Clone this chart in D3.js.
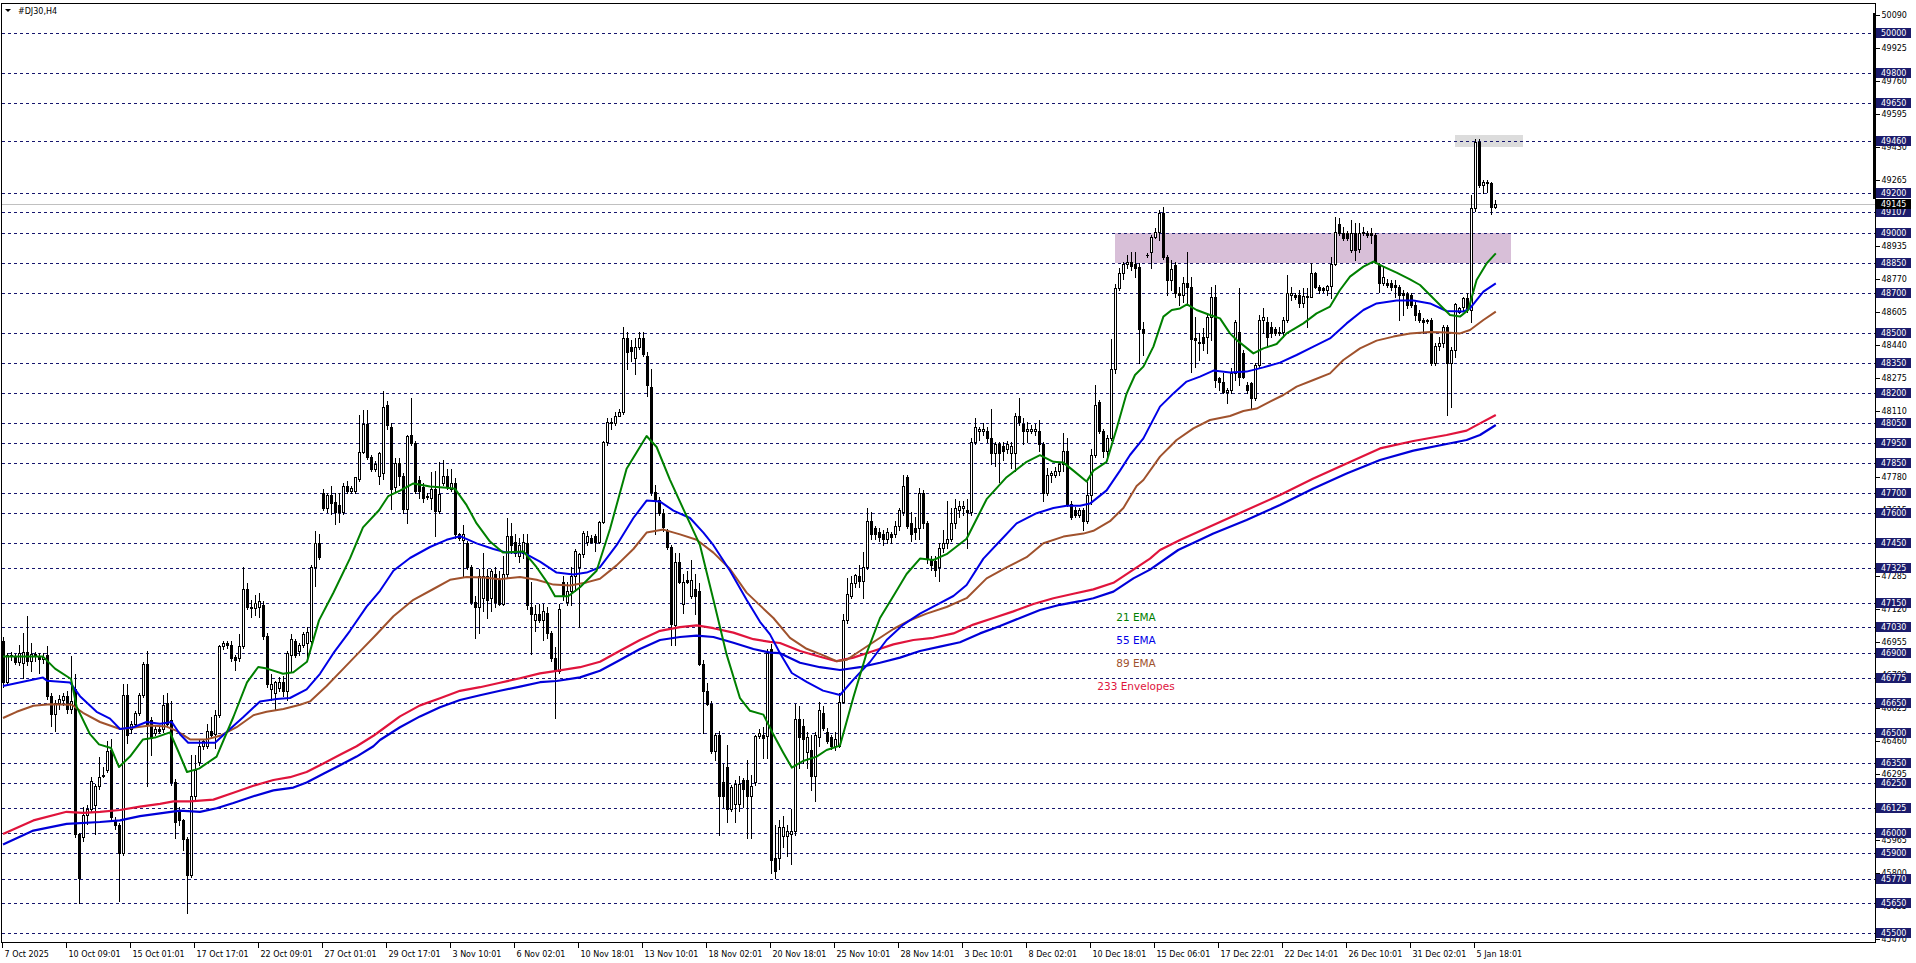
<!DOCTYPE html>
<html><head><meta charset="utf-8">
<script src="https://cdn.jsdelivr.net/npm/d3@7"></script>
<style>html,body{margin:0;padding:0;background:#fff;overflow:hidden}svg{display:block}</style>
</head><body>
<svg id="c" width="1916" height="963"></svg>
<script>
// ---------- DATA (H4 bars, #DJ30) ----------
const openP = [46960,46753,46891,46880,46856,46850,46905,46860,46895,46885,46870,46891,46684,46595,46650,46665,46685,46620,46720,45995,
45980,46090,46120,46141,46236,46285,46313,46417,46063,46038,45900,46692,46520,46546,46598,46692,46847,46563,46500,46520,
46520,46649,46563,46253,46115,46063,45969,45788,46184,46356,46434,46434,46511,46494,46589,46934,46951,46942,46882,46873,
46934,47218,47132,47123,47132,47140,46985,46718,46701,46727,46753,46710,46891,46960,46908,46942,46951,46960,47330,47451,
47700,47623,47692,47657,47640,47606,47735,47709,47709,47769,47907,48045,47881,47821,47787,47800,48140,48030,47730,47848,
47784,47621,47988,47948,47766,47730,47680,47675,47721,47612,47748,47784,47721,47748,47493,47466,47448,47329,47157,47129,
47175,47284,47175,47293,47266,47147,47293,47484,47457,47384,47402,47448,47129,47066,47093,47066,47102,47002,46874,46811,
47257,47157,47211,47284,47329,47393,47457,47475,47484,47457,47557,47957,48057,48048,48085,48103,48476,48431,48376,48431,
48476,48385,48230,47703,47666,47602,47511,47430,47038,47357,47147,47266,47184,47220,47211,46847,46711,46647,46410,46492,
46256,46328,46119,46146,46146,46265,46265,46183,46256,46483,46492,46483,46921,45876,45876,45986,45986,45997,46008,46569,
46536,46404,46415,46283,46481,46602,46503,46481,46437,46437,46657,47064,47185,47251,47284,47262,47328,47559,47526,47504,
47493,47471,47493,47493,47537,47603,47779,47548,47526,47526,47702,47548,47372,47361,47328,47427,47449,47471,47548,47614,
47625,47614,47603,47955,48010,48010,48010,47977,47900,47944,47933,47922,47900,47900,48087,48043,48010,48010,48010,48010,
47944,47702,47790,47790,47812,47845,47911,47647,47614,47592,47614,47559,47691,47889,48153,48010,47911,47977,48318,48725,
48802,48846,48857,48846,48830,48518,48890,48907,48982,49007,49102,48882,48765,48840,48698,48690,48752,48732,48473,48448,
48482,48482,48582,48682,48273,48257,48207,48215,48298,48507,48398,48240,48248,48173,48340,48565,48557,48532,48518,48498,
48507,48565,48690,48690,48690,48652,48685,48682,48798,48732,48723,48715,48735,48845,49045,48998,48998,48915,48998,48918,
49007,49002,49002,48990,48840,48748,48752,48748,48740,48732,48698,48695,48690,48640,48598,48565,48560,48565,48348,48435,
48452,48532,48348,48415,48607,48632,48673,48615,49123,49457,49240,49248,49248,49128];
const highP = [46980,46900,46905,46895,46942,47000,47084,46950,46905,46900,46900,46937,46700,46667,46690,46700,46710,46885,46796,46000,
46130,46141,46280,46245,46382,46330,46460,46468,46080,46050,46744,46744,46560,46610,46701,46856,46911,46580,46540,46530,
46692,46701,46658,46270,46130,46070,45980,46391,46391,46468,46470,46546,46580,46615,46940,46960,46960,46960,46890,46994,
47330,47252,47166,47192,47201,47160,47000,46796,46760,46779,46787,46908,46994,46970,46951,47003,47028,47340,47511,47494,
47718,47700,47735,47700,47700,47752,47761,47735,47778,48088,48114,48114,47890,47860,47907,48209,48160,48050,47875,47875,
47800,47990,48176,47960,47785,47748,47700,47803,47812,47857,47866,47821,47821,47775,47500,47539,47460,47340,47184,47320,
47402,47320,47320,47329,47311,47384,47575,47548,47493,47475,47493,47493,47257,47138,47147,47147,47129,47010,46929,47147,
47284,47257,47329,47420,47402,47511,47511,47490,47493,47560,47960,48076,48076,48103,48121,48531,48503,48467,48476,48503,
48503,48403,48321,47739,47680,47620,47520,47439,47402,47402,47293,47311,47366,47293,47248,46865,46750,46660,46501,46510,
46347,46438,46240,46265,46283,46274,46365,46292,46490,46520,46529,46920,46943,46041,46063,46085,46041,46118,46646,46635,
46569,46503,46492,46503,46657,46635,46525,46490,46503,46701,47097,47273,47284,47295,47339,47405,47625,47603,47537,47526,
47515,47526,47504,47559,47625,47790,47790,47603,47581,47724,47713,47559,47383,47383,47449,47515,47658,47625,47669,47658,
47658,47669,47977,48076,48032,48050,48032,48120,47955,47955,47955,47960,47955,48098,48175,48076,48054,48040,48043,48065,
47955,47823,47812,47830,47856,47999,47977,47658,47630,47625,47625,47757,47922,48241,48164,48021,47988,48472,48747,48824,
48857,48890,48907,48907,48850,48557,48898,48990,49023,49115,49128,48890,48865,48857,48732,48782,48907,48782,48582,48498,
48523,48590,48732,48740,48282,48298,48223,48323,48565,48723,48415,48257,48257,48348,48590,48623,48582,48557,48532,48532,
48582,48790,48732,48700,48715,48723,48723,48848,48807,48740,48730,48740,48882,49082,49073,49032,49010,49065,49048,49048,
49032,49010,49023,48998,48848,48832,48770,48765,48765,48740,48715,48707,48700,48657,48615,48573,48570,48573,48448,48482,
48540,48540,48432,48648,48632,48682,48698,49190,49468,49468,49265,49265,49257,49165];
const lowP = [46730,46740,46865,46845,46840,46775,46840,46810,46860,46800,46850,46670,46537,46511,46620,46640,46600,46600,45980,45650,
45960,46046,46110,45995,46219,46279,46305,46072,46020,45659,45890,46450,46500,46530,46590,46680,46236,46391,46490,46500,
46503,46530,46240,45977,46040,45917,45598,45780,46170,46340,46420,46425,46480,46425,46580,46920,46925,46860,46813,46860,
46925,47120,47080,47089,47080,46970,46730,46667,46615,46710,46684,46667,46804,46880,46891,46930,46880,46950,47235,47370,
47614,47606,47597,47545,47554,47597,47700,47700,47700,47761,47899,47870,47810,47812,47743,47770,48020,47621,47710,47739,
47600,47548,47940,47700,47675,47657,47670,47621,47484,47602,47739,47721,47712,47475,47466,47284,47320,47147,46975,47002,
47111,47075,47111,47129,47138,47138,47275,47402,47384,47357,47375,47120,46893,47011,47057,46965,46975,46860,46574,46800,
47166,47138,47138,47211,47029,47380,47439,47450,47411,47450,47548,47939,48021,48039,48085,48094,48321,48358,48294,48420,
48385,48185,47690,47493,47590,47511,47420,46938,46938,47248,47102,47248,47175,47093,46840,46501,46638,46400,46365,45992,
46128,46055,46110,46055,46110,46128,45974,45974,46240,46474,46374,46374,45799,45777,45821,45931,45887,45843,45990,46327,
46349,46327,46217,46162,46437,46515,46448,46420,46415,46430,46650,47050,47174,47229,47229,47174,47320,47471,47471,47460,
47438,47449,47449,47482,47515,47590,47526,47460,47471,47471,47526,47350,47317,47284,47262,47405,47427,47460,47526,47581,
47592,47427,47590,47944,47966,47990,47955,47845,47834,47757,47867,47900,47823,47812,48040,47944,47955,48000,47988,47911,
47658,47691,47757,47780,47790,47812,47636,47570,47580,47580,47515,47548,47647,47880,47999,47878,47867,47966,48300,48714,
48769,48824,48815,48780,48350,48390,48882,48823,48973,48965,48870,48690,48715,48682,48640,48657,48640,48307,48332,48365,
48415,48398,48465,48232,48215,48198,48148,48198,48265,48240,48273,48198,48123,48165,48323,48498,48432,48482,48490,48490,
48482,48557,48665,48670,48632,48632,48532,48682,48723,48700,48705,48690,48673,48840,48990,48965,48965,48907,48865,48907,
48990,48980,48948,48848,48707,48740,48730,48715,48682,48565,48590,48623,48630,48565,48557,48498,48550,48340,48340,48415,
48432,48090,48132,48382,48598,48615,48607,48557,49110,49230,49198,49207,49095,49123];
const closeP = [46753,46891,46885,46856,46899,46905,46860,46895,46885,46870,46880,46684,46595,46650,46670,46685,46620,46660,45995,45774,
46090,46120,46262,46236,46279,46288,46408,46081,46038,45900,46692,46490,46546,46598,46692,46847,46546,46477,46520,46510,
46641,46546,46253,46055,46063,45969,45788,46184,46313,46434,46460,46511,46490,46589,46934,46951,46940,46873,46865,46934,
47218,47132,47123,47149,47158,46985,46744,46744,46753,46753,46710,46899,46968,46891,46942,46994,47003,47330,47451,47382,
47623,47692,47649,47606,47606,47735,47709,47726,47778,47907,48045,47881,47821,47847,47899,48131,48040,47721,47848,47784,
47621,47985,47948,47712,47712,47675,47684,47721,47612,47693,47784,47730,47748,47493,47475,47493,47329,47157,47129,47284,
47284,47166,47311,47157,47147,47293,47484,47439,47402,47439,47457,47138,47093,47093,47066,47111,47002,46874,46811,47120,
47184,47211,47284,47411,47393,47502,47484,47457,47457,47557,47957,48057,48048,48085,48103,48476,48403,48412,48431,48476,
48394,48239,47703,47666,47602,47530,47430,47047,47357,47257,47257,47257,47266,47184,46847,46711,46647,46410,46492,46183,
46183,46119,46228,46247,46247,46219,46183,46237,46483,46501,46474,46900,45865,45810,46030,46030,46008,46008,46569,46481,
46470,46481,46283,46492,46613,46525,46459,46437,46470,46657,47064,47196,47251,47291,47262,47328,47559,47493,47493,47482,
47471,47504,47482,47537,47614,47735,47537,47493,47504,47702,47548,47372,47339,47317,47427,47449,47471,47548,47625,47636,
47636,47603,47955,48032,48021,48021,47977,47900,47944,47900,47911,47944,47933,48087,48054,48010,48021,48021,48021,47944,
47702,47790,47801,47812,47845,47911,47647,47581,47592,47614,47559,47691,47889,48142,48010,47911,47977,48318,48725,48802,
48846,48857,48835,48824,48520,48498,48890,48982,49007,49102,48882,48765,48818,48698,48690,48752,48732,48468,48465,48457,
48448,48582,48682,48265,48257,48207,48215,48298,48557,48282,48282,48215,48173,48340,48565,48582,48482,48498,48498,48507,
48565,48698,48698,48682,48652,48685,48682,48798,48732,48715,48715,48735,48845,49007,48998,48973,48973,48998,48915,48998,
48998,48990,48990,48857,48748,48782,48740,48732,48732,48690,48690,48640,48640,48590,48565,48557,48563,48348,48435,48448,
48532,48348,48415,48645,48623,48673,48623,49123,49457,49240,49257,49257,49128,49145];

// indicator lines: [bar index, price]
const ema21 = [[0,46882],[10,46882],[13,46822],[17,46770],[18.4,46632],[21.75,46494],[24,46443],[27,46425],[29,46330],[31.75,46382],[35,46468],[38,46477],[41.75,46503],[44,46400],[46,46305],[49,46322],[53.4,46382],[57.6,46580],[61,46753],[63.8,46830],[66,46822],[70,46796],[72.6,46804],[76,46856],[79,47063],[82.6,47201],[86.75,47373],[90,47528],[94,47614],
[96.3,47684],[99.25,47712],[102.6,47748],[106.75,47733],[110.9,47726],[113,47721],[115.9,47639],[118.4,47548],[121.75,47457],[125,47402],[130.1,47408],[133.4,47329],[135.9,47257],[138,47184],[141.3,47184],[144.25,47229],[148.4,47311],[151.75,47520],[155.9,47821],[160.9,47985],[163.4,47930],[166.75,47766],[170.9,47584],[174.25,47439],[177.6,47166],[180.9,46893],[184.25,46674],[186.75,46611],[190.1,46592],
[192.6,46492],[195,46404],[197.2,46327],[200,46360],[203.4,46382],[205.9,46415],[209.25,46437],[212.6,46679],[215.9,46899],[219.25,47075],[222.6,47185],[225.9,47295],[229.25,47372],[232.6,47365],[235.9,47394],[240.9,47471],[245.9,47669],[250.9,47779],[255.9,47856],[259.25,47889],[262.6,47856],[265.1,47852],[267.6,47812],[270.9,47757],[272.6,47812],[275.9,47856],[278.4,48021],[280.9,48197],
[283,48290],[285.1,48332],[287.6,48432],[290.1,48582],[292.2,48615],[294.25,48623],[296,48643],[298.4,48615],[301.75,48590],[304.25,48573],[306.75,48498],[308.4,48465],[310.5,48432],[312.6,48398],[315.1,48423],[318.4,48445],[320.9,48498],[325.1,48548],[328.4,48598],[331.75,48632],[334.25,48715],[336.75,48782],[340.1,48832],[342.6,48857],[345.1,48832],[348.4,48802],[351.75,48768],[354.25,48740],[356.75,48690],[359.25,48640],[361.75,48590],[364.25,48582],[366.3,48615],[368.4,48765],[370.9,48848],[373.2,48898]];
const ema55 = [[0,46735],[10,46777],[11,46761],[16.75,46753],[19.25,46684],[23.4,46606],[26.75,46572],[29.25,46520],[32.6,46529],[35.9,46555],[39.25,46546],[42.2,46555],[44.25,46494],[46.3,46451],[49.25,46451],[53,46451],[56.75,46520],[60.1,46580],[64.25,46658],[68.4,46670],[71.75,46675],[75.9,46718],[79.25,46796],[82.6,46899],[86.75,47011],[90.9,47132],[94.25,47211],
[97.6,47311],[101.75,47375],[106.75,47430],[110.9,47466],[114.25,47484],[118.4,47448],[122.6,47420],[125.9,47402],[130.1,47402],[134.25,47357],[138.4,47302],[142.6,47293],[145.9,47302],[149.25,47329],[153.4,47439],[157.6,47575],[160.9,47662],[164.25,47657],[167.6,47612],[171.75,47575],[175.1,47502],[177.6,47439],[181.75,47311],[185.9,47166],[189.25,47056],[191.75,46993],
[194.25,46899],[197.2,46800],[200.9,46756],[205,46712],[209.25,46690],[212.6,46767],[216.75,46855],[220.9,46965],[225.1,47042],[229.25,47097],[233.4,47141],[237.6,47185],[240.9,47240],[245.1,47372],[249.25,47460],[253.4,47548],[258.4,47599],[262.6,47625],[265.9,47636],[269.25,47636],[271.75,47647],[275.9,47713],[279.25,47812],
[281.75,47890],[285.1,47973],[289.25,48132],[292.6,48198],[295.9,48257],[299.25,48282],[302.6,48312],[306.75,48303],[310.9,48307],[315.1,48328],[319.25,48352],[323.4,48390],[327.6,48432],[331.75,48473],[335.9,48548],[340.1,48615],[343.4,48648],[348.4,48662],[352.6,48662],[356.75,48648],[360.9,48610],[365.1,48607],[366.75,48623],[370.1,48707],[373.2,48748]];
const ema89 = [[0,46575],[3.4,46606],[7.6,46636],[11.75,46644],[17.2,46641],[20,46601],[24.25,46555],[29.25,46520],[33.4,46529],[36.75,46538],[40.9,46532],[43.4,46511],[46.75,46468],[50.9,46468],[54.25,46486],[58.4,46529],[62.6,46589],[65.9,46606],[70.1,46620],[74.25,46641],[76.75,46658],[80.9,46735],[85.1,46822],[89.25,46908],[93.4,46994],
[97.6,47084],[102.6,47166],[107.6,47220],[111.75,47266],[115.9,47280],[120.1,47278],[124.25,47269],[129.25,47280],[133.4,47266],[137.6,47242],[141.75,47238],[145.9,47253],[149.25,47271],[153.4,47338],[157.6,47420],[160.9,47502],[165.1,47517],[169.25,47493],[173.4,47466],[177.6,47402],[181.75,47320],[185.9,47202],[189.25,47138],
[192.6,47075],[196.75,46976],[200.9,46921],[205.1,46888],[208.4,46859],[210.9,46866],[214.25,46910],[218.4,46965],[222.6,47020],[226.75,47064],[230.9,47097],[235.9,47130],[240.9,47174],[245.9,47273],[250.9,47328],[255.9,47379],[260.1,47449],[265.1,47482],[270.1,47497],[272.6,47511],[276.75,47559],[280.1,47625],
[283.4,47735],[285.1,47765],[289.25,47882],[293.4,47965],[297.6,48023],[301.75,48065],[306.75,48085],[310.1,48110],[313.4,48122],[316.75,48157],[320.1,48190],[323.4,48232],[327.6,48265],[331.75,48298],[335.1,48365],[339.25,48423],[343.4,48462],[347.6,48482],[351.75,48498],[356.75,48505],[360.9,48502],[364.25,48498],[366.75,48515],[370.1,48565],[373.2,48607]];
const envUpper = [[0,45995],[7.6,46063],[15.9,46106],[20,46101],[24.25,46106],[29.25,46115],[34.25,46132],[39.25,46146],[42.6,46158],[46.75,46158],[52.6,46167],[57.6,46201],[62.6,46236],[67.6,46265],[71.75,46279],[75.9,46305],[80.1,46348],[84.25,46391],[88.4,46434],[92.6,46486],
[94.25,46510],[99.25,46583],[104.25,46638],[109.25,46674],[114.25,46711],[119.25,46729],[124.25,46751],[129.25,46774],[134.25,46798],[138.4,46811],[144.25,46829],[149.25,46856],[154.25,46911],[159.25,46965],[164.25,47011],[169.25,47029],[173.4,47038],[177.6,47024],[182.6,47002],[187.6,46969],[191.75,46956],
[194.25,46950],[199.25,46910],[204.25,46881],[208.4,46859],[212.6,46877],[217.6,46910],[222.6,46943],[227.6,46965],[232.6,46976],[237.6,46998],[242.6,47042],[247.6,47075],[252.6,47108],[257.6,47145],[262.6,47174],[267.6,47196],[272.6,47218],[277.6,47251],[282.6,47317],[286.75,47372],
[289.25,47415],[294.25,47465],[302.6,47540],[310.9,47615],[319.25,47690],[327.6,47773],[335.9,47848],[344.25,47923],[352.6,47960],[360.9,47990],[365.9,48012],[369.25,48048],[373.2,48090]];
const envLower = [[0,45943],[7.6,46012],[15.9,46046],[24.25,46055],[29.25,46063],[34.25,46084],[39.25,46098],[44.25,46112],[49.25,46106],[53.4,46124],[57.6,46150],[62.6,46184],[67.6,46213],[72.6,46227],[75.9,46253],[80.1,46296],[84.25,46339],[88.4,46382],[92.6,46434],
[94.25,46465],[99.25,46529],[104.25,46583],[109.25,46629],[114.25,46665],[119.25,46689],[124.25,46711],[129.25,46732],[134.25,46754],[138.4,46760],[144.25,46778],[149.25,46811],[154.25,46865],[159.25,46920],[164.25,46965],[169.25,46980],[173.4,46987],[177.6,46980],[182.6,46951],[187.6,46920],[191.75,46902],
[194.25,46899],[199.25,46851],[204.25,46829],[209.25,46815],[214.25,46829],[219.25,46851],[224.25,46877],[229.25,46910],[234.25,46932],[239.25,46954],[244.25,46998],[249.25,47035],[254.25,47075],[259.25,47115],[264.25,47141],[269.25,47159],[272.6,47174],[277.6,47207],[282.6,47273],[286.75,47317],
[293.8,47415],[302.6,47498],[310.9,47565],[319.25,47640],[327.6,47723],[335.9,47798],[344.25,47865],[352.6,47912],[360.9,47945],[365.9,47965],[369.25,47990],[373.2,48040]];

// horizontal levels (dashed lines with labels)
const levels = [50000,49800,49650,49460,49200,49107,49000,48850,48700,48500,48350,48200,48050,47950,47850,47700,47600,47450,47325,47150,47030,46900,46775,46650,46500,46350,46250,46125,46000,45900,45770,45650,45500];
// price scale ticks
const scaleTicks = [50090,49925,49760,49595,49430,49265,49100,48935,48770,48605,48440,48275,48110,47945,47780,47615,47450,47285,47120,46955,46790,46625,46460,46295,46130,45965,45800,45635,45470];
// time axis
const timeLabelBars = [0,16,32,48,64,80,96,112,128,144,160,176,192,208,224,240,256,272,288,304,320,336,352,368];
const timeLabels = ["7 Oct 2025","10 Oct 09:01","15 Oct 01:01","17 Oct 17:01","22 Oct 09:01","27 Oct 01:01","29 Oct 17:01","3 Nov 10:01","6 Nov 02:01","10 Nov 18:01","13 Nov 10:01","18 Nov 02:01","20 Nov 18:01","25 Nov 10:01","28 Nov 14:01","3 Dec 10:01","8 Dec 02:01","10 Dec 18:01","15 Dec 06:01","17 Dec 22:01","22 Dec 14:01","26 Dec 10:01","31 Dec 02:01","5 Jan 18:01"];
const currentPrice = 49145;
// rectangle zones: bar range and price range
const zoneFrom = [278, 363];
const zoneTo = [377, 380];
const zoneTop = [49000, 49490];
const zoneBottom = [48850, 49432];
const legendNames = ["21 EMA","55 EMA","89 EMA","233 Envelopes"];

// ---------- LAYOUT ----------
const L = 1.5, T = 3.5, R = 1875.5, B = 942.5;
const svg = d3.select('#c');
const x = d3.scaleLinear().domain([0, 373]).range([3, 3 + 4 * 373]);
const y = d3.scaleLinear().domain([45455, 50155]).range([942, 2]);
const font = '"DejaVu Sans", Verdana, sans-serif';

svg.append('defs').append('clipPath').attr('id', 'clip')
  .append('rect').attr('x', L).attr('y', T).attr('width', R - L).attr('height', B - T);

const plot = svg.append('g').attr('clip-path', 'url(#clip)');

// zones
const zoneColors = ['#d8bfd8', '#dcdcdc'];
zoneFrom.forEach((f, k) => {
  plot.append('rect')
    .attr('x', Math.round(x(f))).attr('width', Math.round(x(zoneTo[k]) - x(f)))
    .attr('y', Math.round(y(zoneTop[k]))).attr('height', Math.round(y(zoneBottom[k]) - y(zoneTop[k])))
    .attr('fill', zoneColors[k]);
});

// dashed level lines
plot.selectAll('line.lvl').data(levels).enter().append('line')
  .attr('x1', L).attr('x2', R)
  .attr('y1', d => Math.round(y(d)) + 0.5).attr('y2', d => Math.round(y(d)) + 0.5)
  .attr('stroke', '#16166e').attr('stroke-width', 1).attr('stroke-dasharray', '3,3')
  .attr('shape-rendering', 'crispEdges');

// bid line
plot.append('line').attr('x1', L).attr('x2', R)
  .attr('y1', Math.round(y(currentPrice)) + 0.5).attr('y2', Math.round(y(currentPrice)) + 0.5)
  .attr('stroke', '#c0c0c0').attr('stroke-width', 1).attr('shape-rendering', 'crispEdges');

// candles
const bars = d3.range(openP.length).map(i => ({i, o: openP[i], h: highP[i], l: lowP[i], c: closeP[i]}));
const cg = plot.append('g').attr('shape-rendering', 'crispEdges');
bars.forEach(d => {
  const xc = Math.round(x(d.i));
  cg.append('line').attr('x1', xc + 0.5).attr('x2', xc + 0.5)
    .attr('y1', Math.round(y(d.h))).attr('y2', Math.round(y(d.l)) + 1)
    .attr('stroke', '#000').attr('stroke-width', 1);
  const top = Math.round(y(Math.max(d.o, d.c)));
  const bot = Math.round(y(Math.min(d.o, d.c)));
  if (bot - top < 1) {
    cg.append('line').attr('x1', xc - 1).attr('x2', xc + 2)
      .attr('y1', top + 0.5).attr('y2', top + 0.5).attr('stroke', '#000');
  } else {
    cg.append('rect').attr('x', xc - 0.5).attr('y', top + 0.5)
      .attr('width', 2).attr('height', bot - top)
      .attr('fill', d.c >= d.o ? '#fff' : '#000').attr('stroke', '#000').attr('stroke-width', 1);
  }
});

// indicator lines
const line = d3.line().x(d => x(d[0])).y(d => y(d[1]));
const series = [
  {data: envUpper, color: '#e0143c', w: 2.2},
  {data: envLower, color: '#0000d8', w: 2.2},
  {data: ema89, color: '#a0522d', w: 2},
  {data: ema55, color: '#0000e6', w: 2},
  {data: ema21, color: '#008000', w: 2}
];
series.forEach(s => plot.append('path').attr('d', line(s.data)).attr('fill', 'none')
  .attr('stroke', s.color).attr('stroke-width', s.w).attr('stroke-linejoin', 'round'));

// legend
const legendColors = ['#008000', '#0000e6', '#a0522d', '#e0143c'];
legendNames.forEach((n, k) => {
  svg.append('text').attr('x', 1136).attr('y', 621 + 23 * k).attr('text-anchor', 'middle')
    .attr('font-family', font).attr('font-size', 10.5).attr('fill', legendColors[k]).text(n);
});

// frame
svg.append('rect').attr('x', L).attr('y', T).attr('width', R - L).attr('height', B - T)
  .attr('fill', 'none').attr('stroke', '#000').attr('stroke-width', 1).attr('shape-rendering', 'crispEdges');
// thicker top part of the scale edge
svg.append('rect').attr('x', 1873).attr('y', 13).attr('width', 3).attr('height', 186).attr('fill', '#000');

// right price axis (plain ticks)
const axR = d3.axisRight(y).tickValues(scaleTicks).tickSize(4).tickPadding(2).tickFormat(d3.format('d'));
const gR = svg.append('g').attr('transform', `translate(${R},0)`).call(axR);
gR.select('.domain').remove();
gR.selectAll('text').attr('font-family', font).attr('font-size', 8).attr('fill', '#000');
gR.selectAll('line').attr('stroke', '#000').attr('shape-rendering', 'crispEdges');

// level labels
const lg = svg.append('g');
levels.forEach(p => {
  const yy = Math.round(y(p));
  lg.append('rect').attr('x', 1876).attr('y', yy - 5).attr('width', 35).attr('height', 10).attr('fill', '#1c1c6c');
  lg.append('text').attr('x', 1881).attr('y', yy + 3).attr('font-family', font).attr('font-size', 8)
    .attr('fill', '#fff').text(p);
});
{
  const yy = Math.round(y(currentPrice));
  lg.append('rect').attr('x', 1876).attr('y', yy - 5).attr('width', 35).attr('height', 10).attr('fill', '#000');
  lg.append('text').attr('x', 1881).attr('y', yy + 3).attr('font-family', font).attr('font-size', 8)
    .attr('fill', '#fff').text(currentPrice);
}

// bottom time axis
const axB = d3.axisBottom(x).tickValues(timeLabelBars).tickSize(5).tickFormat((d, k) => timeLabels[k]);
const gB = svg.append('g').attr('transform', `translate(-1,${B})`).call(axB);
gB.select('.domain').remove();
gB.selectAll('line').attr('stroke', '#000').attr('shape-rendering', 'crispEdges');
gB.selectAll('text').attr('font-family', font).attr('font-size', 8).attr('fill', '#000')
  .attr('text-anchor', 'start').attr('dx', 2).attr('dy', 0).attr('y', 14.5);

// title
svg.append('path').attr('d', 'M5,9 L11,9 L8,12 Z').attr('fill', '#000');
svg.append('text').attr('x', 18).attr('y', 14).attr('font-family', font).attr('font-size', 8)
  .attr('fill', '#000').text('#DJ30,H4');
</script>
</body></html>
